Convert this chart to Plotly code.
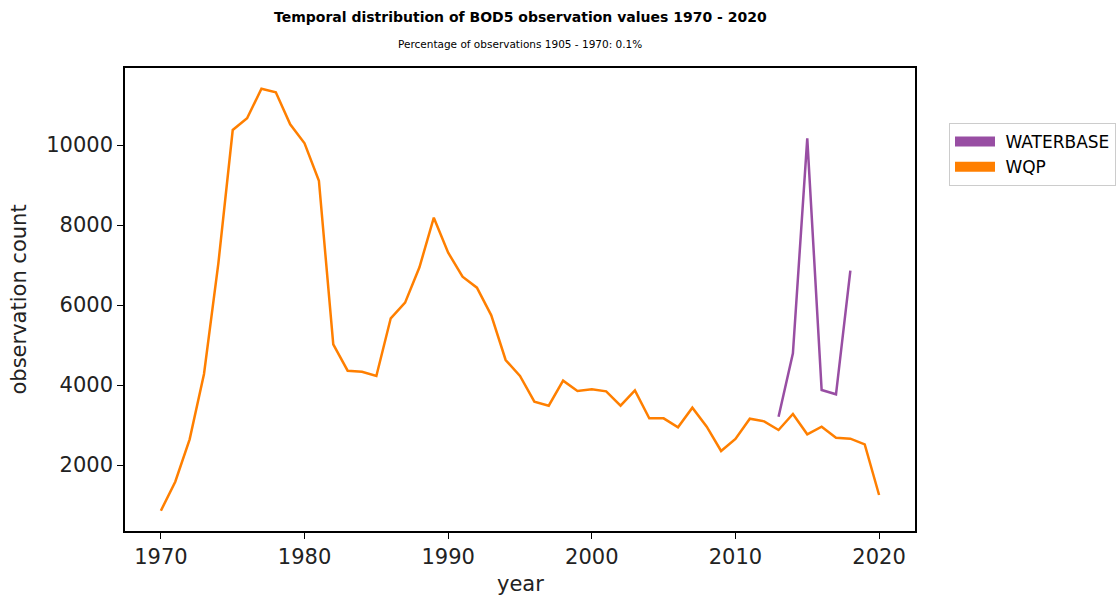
import plotly.graph_objects as go

years_wqp = list(range(1970, 2021))
wqp = [858, 1583, 2642, 4275, 7042, 10375, 10667, 11408, 11317, 10517,
       10042, 9108, 5017, 4358, 4333, 4225, 5667, 6058, 6942, 8183,
       7308, 6708, 6433, 5742, 4625, 4225, 3583, 3483, 4108, 3850,
       3892, 3842, 3483, 3867, 3167, 3167, 2942, 3433, 2958, 2350,
       2650, 3158, 3092, 2875, 3275, 2767, 2958, 2683, 2658, 2517,
       1250]
years_wb = [2013, 2014, 2015, 2016, 2017, 2018]
waterbase = [3208, 4792, 10167, 3875, 3767, 6858]

x_ticks = [1970, 1980, 1990, 2000, 2010, 2020]
y_ticks = [2000, 4000, 6000, 8000, 10000]
y_ticktext = [str(v) for v in y_ticks]

C_WB = "#984EA3"
C_WQP = "#FF7F00"
FONT = "DejaVu Sans"
TXT = "#222222"

# plot area in page pixels
L, R, T, B = 125, 915, 68, 531
PW, PH = R - L, B - T

fig = go.Figure()
fig.add_trace(go.Scatter(x=years_wb, y=waterbase, mode="lines",
                         line=dict(color=C_WB, width=2.5), showlegend=False))
fig.add_trace(go.Scatter(x=years_wqp, y=wqp, mode="lines",
                         line=dict(color=C_WQP, width=2.5), showlegend=False))
# legend patches
fig.add_trace(go.Scatter(x=[None], y=[None], mode="lines", name="\u00a0WATERBASE",
                         line=dict(color=C_WB, width=14)))
fig.add_trace(go.Scatter(x=[None], y=[None], mode="lines", name="\u00a0WQP",
                         line=dict(color=C_WQP, width=14)))

fig.update_layout(
    width=1120, height=600,
    margin=dict(l=L, r=1120 - R, t=T, b=600 - B, autoexpand=False),
    paper_bgcolor="white", plot_bgcolor="white",
    font=dict(family=FONT, color="black"),
    showlegend=True,
    legend=dict(x=(949 - L) / PW, y=(B - 123) / PH, xanchor="left", yanchor="top",
                bordercolor="#cccccc", borderwidth=1, bgcolor="white",
                font=dict(size=17, family=FONT, color="black"), itemwidth=40,
                tracegroupgap=0),
)
fig.add_annotation(text="<b>Temporal distribution of BOD5 observation values 1970 - 2020</b>",
                   x=0.5, xref="paper", y=1.0 + (T - 17) / PH, yref="paper",
                   yanchor="middle", showarrow=False, font=dict(size=14, family=FONT))
fig.add_annotation(text="Percentage of observations 1905 - 1970: 0.1%",
                   x=0.5, xref="paper", y=1.0 + (T - 44) / PH, yref="paper",
                   yanchor="middle", showarrow=False, font=dict(size=10.5, family=FONT))
fig.add_annotation(text="year", x=0.5, xref="paper", y=-(584 - B) / PH, yref="paper",
                   yanchor="middle", xanchor="center", showarrow=False,
                   font=dict(size=21, family=FONT, color=TXT))
fig.add_annotation(text="observation count", x=-(L - 18) / PW, xref="paper",
                   y=0.5, yref="paper", textangle=-90,
                   yanchor="middle", xanchor="center", showarrow=False,
                   font=dict(size=21, family=FONT, color=TXT))

fig.update_xaxes(range=[1967.5, 2022.5], tickvals=x_ticks, ticks="outside",
                 ticklen=6, tickwidth=1.3, tickcolor="black",
                 showline=True, linecolor="black", linewidth=1.5, mirror=True,
                 showgrid=False, zeroline=False, automargin=False,
                 tickfont=dict(size=21, family=FONT, color=TXT))
fig.update_yaxes(range=[350, 11925], tickvals=y_ticks, ticktext=y_ticktext, ticks="outside",
                 ticklen=6, tickwidth=1.3, tickcolor="black",
                 showline=True, linecolor="black", linewidth=1.5, mirror=True,
                 showgrid=False, zeroline=False, automargin=False,
                 tickfont=dict(size=21, family=FONT, color=TXT))

fig.write_html("out.html", config={"displayModeBar": False})
with open("out.html", "r", encoding="utf-8") as f:
    html = f.read()
html = html.replace("<body>", '<body style="margin:0;overflow:hidden">', 1)
with open("out.html", "w", encoding="utf-8") as f:
    f.write(html)
